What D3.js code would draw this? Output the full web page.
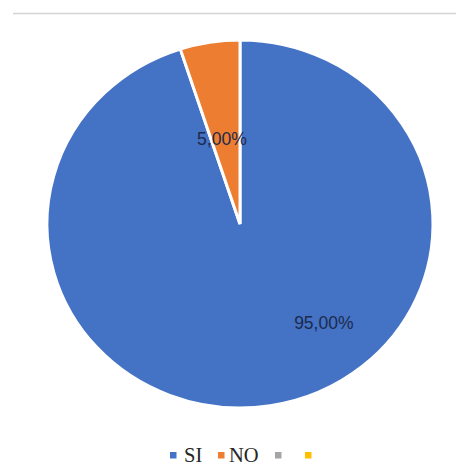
<!DOCTYPE html>
<html>
<head>
<meta charset="utf-8">
<script src="https://cdn.jsdelivr.net/npm/d3@7"></script>
<style>
  html, body { margin: 0; padding: 0; background: #fff; }
  svg { display: block; }
</style>
</head>
<body>
<svg id="chart" width="456" height="464"></svg>
<script>
// Survey answers (share of responses, %)
const categories = ["SI", "NO", "", ""];
const values = [95, 5, 0, 0];
const labels = ["95,00%", "5,00%", "", ""];
const colors = ["#4472C4", "#ED7D31", "#A5A5A5", "#FFC000"];

const W = 456, H = 464;
const cx = 240, cy = 224, r = 193, squash = 0.953;

const svg = d3.select("#chart");

// thin rule across the top of the chart area
svg.append("line")
  .attr("x1", 13).attr("x2", W)
  .attr("y1", 13.5).attr("y2", 13.5)
  .attr("stroke", "#d4d4d4").attr("stroke-width", 1.5);

const pie = d3.pie().sort(null).value(d => d.value);
const data = categories.map((c, i) => ({ name: c, value: values[i], label: labels[i], color: colors[i] }));
const arcs = pie(data);

const arc = d3.arc().innerRadius(0).outerRadius(r);

const g = svg.append("g")
  .attr("transform", `translate(${cx},${cy}) scale(1,${squash})`);

g.selectAll("path")
  .data(arcs.filter(a => a.data.value > 0))
  .join("path")
  .attr("d", arc)
  .attr("fill", d => d.data.color)
  .attr("stroke", "#fff")
  .attr("stroke-width", 3)
  .attr("stroke-linejoin", "miter");

// data labels: best-fit placement inside each slice
const labelPlace = { "SI": { angle: 141, radius: 0.69 }, "NO": { angle: 348.5, radius: 0.47 } };
svg.selectAll("text.lbl")
  .data(arcs.filter(a => a.data.value > 0))
  .join("text")
  .attr("class", "lbl")
  .attr("x", d => cx + Math.sin(labelPlace[d.data.name].angle * Math.PI / 180) * r * labelPlace[d.data.name].radius)
  .attr("y", d => cy - Math.cos(labelPlace[d.data.name].angle * Math.PI / 180) * r * labelPlace[d.data.name].radius * squash)
  .attr("text-anchor", "middle")
  .attr("dominant-baseline", "central")
  .attr("font-family", "Liberation Sans, Arial, sans-serif")
  .attr("font-size", 17.5)
  .attr("fill", "#1c2a4c")
  .text(d => d.data.label);

// legend
const legendItems = [
  { x: 170, tx: 184 },
  { x: 218, tx: 229 },
  { x: 275, tx: 0 },
  { x: 305, tx: 0 }
];
const lg = svg.append("g");
data.forEach((d, i) => {
  lg.append("rect")
    .attr("x", legendItems[i].x).attr("y", 452)
    .attr("width", 6.5).attr("height", 6.5)
    .attr("fill", d.color);
  if (d.name) {
    lg.append("text")
      .attr("x", legendItems[i].tx).attr("y", 461.5)
      .attr("font-family", "Liberation Serif, Times New Roman, serif")
      .attr("font-size", 20.5)
      .attr("fill", "#262626")
      .text(d.name);
  }
});
</script>
</body>
</html>
